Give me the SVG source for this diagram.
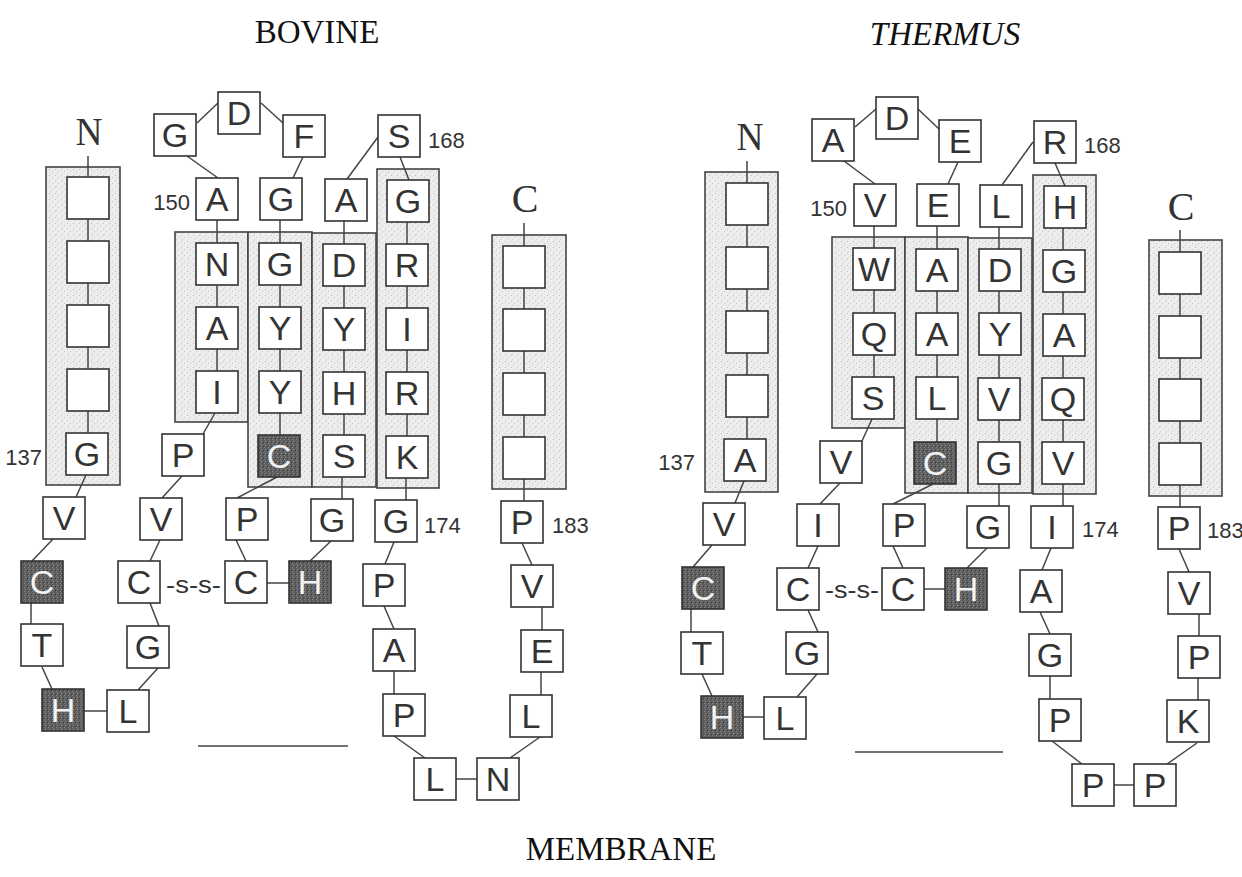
<svg xmlns="http://www.w3.org/2000/svg" width="1242" height="877" viewBox="0 0 1242 877">
<defs>
<pattern id="stip" width="6" height="6" patternUnits="userSpaceOnUse">
<rect width="6" height="6" fill="#ededed"/>
<rect x="1" y="1" width="1" height="1" fill="#bdbdbd"/>
<rect x="4" y="3" width="1" height="1" fill="#c4c4c4"/>
<rect x="2" y="5" width="1" height="1" fill="#d0d0d0"/>
</pattern>
<pattern id="dark" width="4" height="4" patternUnits="userSpaceOnUse">
<rect width="4" height="4" fill="#5e5e5e"/>
<rect x="1" y="1" width="1" height="1" fill="#939393"/>
<rect x="3" y="2" width="1" height="1" fill="#3c3c3c"/>
<rect x="0" y="3" width="1" height="1" fill="#848484"/>
</pattern>
</defs>
<style>
.sh{fill:url(#stip);stroke:#444;stroke-width:1.6}
.b{fill:#fff;stroke:#333;stroke-width:1.6}
.d{fill:url(#dark);stroke:#333;stroke-width:1.6}
.t{font-family:"Liberation Sans",Arial,sans-serif;font-size:34px;fill:#333;text-anchor:middle}
.tw{font-family:"Liberation Sans",Arial,sans-serif;font-size:34px;fill:#f2f2f2;text-anchor:middle}
.num{font-family:"Liberation Sans",Arial,sans-serif;font-size:22px;fill:#333}
.ss{font-family:"Liberation Sans",Arial,sans-serif;font-size:24px;fill:#333}
.lab{font-family:"Liberation Serif","Times New Roman",serif;font-size:40px;fill:#333;text-anchor:middle}
.title{font-family:"Liberation Serif","Times New Roman",serif;font-size:33px;fill:#111;text-anchor:middle}
.c{stroke:#444;stroke-width:1.5;fill:none}
</style>
<rect width="1242" height="877" fill="#fff"/>

<!-- titles -->
<text class="title" x="317" y="43">BOVINE</text>
<text class="title" x="945" y="45" font-style="italic">THERMUS</text>
<text class="title" x="621" y="860">MEMBRANE</text>

<!-- shaded helix regions -->
<g id="regions">
<rect class="sh" x="46" y="167" width="74" height="318"/>
<rect class="sh" x="175" y="232" width="73" height="190"/>
<rect class="sh" x="248" y="232" width="64" height="255"/>
<rect class="sh" x="312" y="233" width="64" height="254"/>
<rect class="sh" x="377" y="169" width="62" height="319"/>
<rect class="sh" x="492" y="235" width="74" height="254"/>
<rect class="sh" x="705" y="172" width="73" height="320"/>
<rect class="sh" x="832" y="237" width="73" height="191"/>
<rect class="sh" x="905" y="237" width="63" height="256"/>
<rect class="sh" x="968" y="238" width="64" height="255"/>
<rect class="sh" x="1033" y="175" width="63" height="319"/>
<rect class="sh" x="1149" y="240" width="73" height="256"/>
</g>

<!-- connectors -->
<g id="connectors" class="c">
<!-- bovine -->
<line x1="88" y1="156" x2="88" y2="433"/>
<line x1="86" y1="475" x2="76" y2="497"/>
<line x1="53" y1="539" x2="32" y2="561"/>
<line x1="31" y1="603" x2="31" y2="624"/>
<line x1="42" y1="667" x2="52" y2="689"/>
<line x1="83" y1="711" x2="107" y2="711"/>
<line x1="138" y1="690" x2="158" y2="668"/>
<line x1="159" y1="626" x2="150" y2="603"/>
<line x1="150" y1="561" x2="160" y2="540"/>
<line x1="162" y1="498" x2="182" y2="476"/>
<line x1="203" y1="434" x2="215" y2="413"/>
<line x1="217" y1="220" x2="217" y2="371"/>
<line x1="218" y1="178" x2="187" y2="156"/>
<line x1="197" y1="123" x2="218" y2="103"/>
<line x1="261" y1="103" x2="283" y2="123"/>
<line x1="303" y1="157" x2="293" y2="178"/>
<line x1="280" y1="220" x2="280" y2="435"/>
<line x1="277" y1="477" x2="237" y2="498"/>
<line x1="236" y1="540" x2="246" y2="561"/>
<line x1="267" y1="583" x2="289" y2="583"/>
<line x1="310" y1="561" x2="331" y2="541"/>
<line x1="344" y1="221" x2="344" y2="435"/>
<line x1="342" y1="477" x2="342" y2="499"/>
<line x1="347" y1="179" x2="378" y2="137"/>
<line x1="400" y1="157" x2="409" y2="180"/>
<line x1="407" y1="222" x2="407" y2="436"/>
<line x1="406" y1="478" x2="406" y2="500"/>
<line x1="394" y1="542" x2="385" y2="564"/>
<line x1="384" y1="606" x2="394" y2="629"/>
<line x1="394" y1="671" x2="394" y2="694"/>
<line x1="394" y1="736" x2="425" y2="758"/>
<line x1="456" y1="779" x2="477" y2="779"/>
<line x1="510" y1="758" x2="540" y2="737"/>
<line x1="541" y1="695" x2="541" y2="672"/>
<line x1="542" y1="630" x2="542" y2="607"/>
<line x1="532" y1="565" x2="522" y2="543"/>
<line x1="524" y1="223" x2="524" y2="501"/>
<line x1="198" y1="746" x2="348" y2="746"/>
<!-- thermus -->
<line x1="747" y1="161" x2="747" y2="439"/>
<line x1="744" y1="481" x2="735" y2="503"/>
<line x1="712" y1="545" x2="693" y2="567"/>
<line x1="691" y1="609" x2="691" y2="632"/>
<line x1="702" y1="674" x2="712" y2="696"/>
<line x1="743" y1="717" x2="764" y2="717"/>
<line x1="797" y1="697" x2="817" y2="674"/>
<line x1="818" y1="632" x2="808" y2="610"/>
<line x1="808" y1="568" x2="818" y2="546"/>
<line x1="820" y1="504" x2="840" y2="483"/>
<line x1="862" y1="441" x2="872" y2="419"/>
<line x1="874" y1="226" x2="874" y2="377"/>
<line x1="875" y1="184" x2="844" y2="161"/>
<line x1="855" y1="127" x2="876" y2="109"/>
<line x1="918" y1="109" x2="939" y2="129"/>
<line x1="958" y1="162" x2="948" y2="184"/>
<line x1="937" y1="226" x2="937" y2="442"/>
<line x1="933" y1="484" x2="893" y2="504"/>
<line x1="893" y1="546" x2="903" y2="568"/>
<line x1="923" y1="589" x2="945" y2="589"/>
<line x1="967" y1="568" x2="987" y2="548"/>
<line x1="999" y1="227" x2="999" y2="506"/>
<line x1="1002" y1="185" x2="1033" y2="142"/>
<line x1="1055" y1="163" x2="1065" y2="186"/>
<line x1="1063" y1="228" x2="1063" y2="506"/>
<line x1="1051" y1="548" x2="1042" y2="570"/>
<line x1="1040" y1="612" x2="1050" y2="634"/>
<line x1="1050" y1="676" x2="1050" y2="699"/>
<line x1="1052" y1="741" x2="1082" y2="764"/>
<line x1="1114" y1="785" x2="1134" y2="785"/>
<line x1="1167" y1="764" x2="1197" y2="743"/>
<line x1="1198" y1="700" x2="1198" y2="678"/>
<line x1="1199" y1="636" x2="1199" y2="614"/>
<line x1="1189" y1="572" x2="1179" y2="549"/>
<line x1="1180" y1="230" x2="1180" y2="507"/>
<line x1="855" y1="752" x2="1003" y2="752"/>
</g>

<!-- labels -->
<g id="labels">
<text class="lab" x="89" y="145" textLength="27" lengthAdjust="spacingAndGlyphs">N</text>
<text class="lab" x="525" y="212">C</text>
<text class="lab" x="750" y="150" textLength="27" lengthAdjust="spacingAndGlyphs">N</text>
<text class="lab" x="1181" y="220">C</text>
<text class="num" x="190" y="210" text-anchor="end">150</text>
<text class="num" x="428" y="148">168</text>
<text class="num" x="42" y="465" text-anchor="end">137</text>
<text class="num" x="424" y="533">174</text>
<text class="num" x="552" y="533">183</text>
<text class="num" x="847" y="216" text-anchor="end">150</text>
<text class="num" x="1084" y="153">168</text>
<text class="num" x="695" y="470" text-anchor="end">137</text>
<text class="num" x="1082" y="537">174</text>
<text class="num" x="1207" y="538" font-size="20">183</text>
<text class="ss" x="166" y="593" textLength="55" lengthAdjust="spacingAndGlyphs">-s-s-</text>
<text class="ss" x="825" y="598" textLength="54" lengthAdjust="spacingAndGlyphs">-s-s-</text>
</g>

<!-- BOVINE residues -->
<g id="b-n1"><rect class="b" x="67" y="177" width="42" height="42"/></g>
<g id="b-n2"><rect class="b" x="67" y="241" width="42" height="42"/></g>
<g id="b-n3"><rect class="b" x="67" y="305" width="42" height="42"/></g>
<g id="b-n4"><rect class="b" x="67" y="369" width="42" height="42"/></g>
<g id="b-g137"><rect class="b" x="66" y="433" width="42" height="42"/><text class="t" x="87" y="466">G</text></g>
<g id="b-v1"><rect class="b" x="43" y="497" width="42" height="42"/><text class="t" x="64" y="530">V</text></g>
<g id="b-c1"><rect class="d" x="21" y="561" width="42" height="42"/><text class="tw" x="42" y="594">C</text></g>
<g id="b-t"><rect class="b" x="21" y="624" width="42" height="42"/><text class="t" x="42" y="657">T</text></g>
<g id="b-h1"><rect class="d" x="42" y="689" width="42" height="42"/><text class="tw" x="63" y="722">H</text></g>
<g id="b-l1"><rect class="b" x="107" y="690" width="42" height="42"/><text class="t" x="128" y="723">L</text></g>
<g id="b-g2"><rect class="b" x="127" y="626" width="42" height="42"/><text class="t" x="148" y="659">G</text></g>
<g id="b-c2"><rect class="b" x="118" y="561" width="42" height="42"/><text class="t" x="139" y="594">C</text></g>
<g id="b-v2"><rect class="b" x="140" y="498" width="42" height="42"/><text class="t" x="161" y="531">V</text></g>
<g id="b-p1"><rect class="b" x="162" y="434" width="42" height="42"/><text class="t" x="183" y="467">P</text></g>
<g id="b-i1"><rect class="b" x="196" y="371" width="42" height="42"/><text class="t" x="217" y="404">I</text></g>
<g id="b-a2"><rect class="b" x="196" y="307" width="42" height="42"/><text class="t" x="217" y="340">A</text></g>
<g id="b-n5"><rect class="b" x="196" y="243" width="42" height="42"/><text class="t" x="217" y="276">N</text></g>
<g id="b-a150"><rect class="b" x="196" y="178" width="42" height="42"/><text class="t" x="217" y="211">A</text></g>
<g id="b-g3"><rect class="b" x="154" y="114" width="42" height="42"/><text class="t" x="175" y="147">G</text></g>
<g id="b-d1"><rect class="b" x="218" y="92" width="42" height="42"/><text class="t" x="239" y="125">D</text></g>
<g id="b-f"><rect class="b" x="283" y="115" width="42" height="42"/><text class="t" x="304" y="148">F</text></g>
<g id="b-g4"><rect class="b" x="260" y="178" width="42" height="42"/><text class="t" x="281" y="211">G</text></g>
<g id="b-g5"><rect class="b" x="259" y="243" width="42" height="42"/><text class="t" x="280" y="276">G</text></g>
<g id="b-y1"><rect class="b" x="259" y="307" width="42" height="42"/><text class="t" x="280" y="340">Y</text></g>
<g id="b-y2"><rect class="b" x="259" y="371" width="42" height="42"/><text class="t" x="280" y="404">Y</text></g>
<g id="b-c3"><rect class="d" x="258" y="435" width="42" height="42"/><text class="tw" x="279" y="468">C</text></g>
<g id="b-p2"><rect class="b" x="226" y="498" width="42" height="42"/><text class="t" x="247" y="531">P</text></g>
<g id="b-c4"><rect class="b" x="225" y="561" width="42" height="42"/><text class="t" x="246" y="594">C</text></g>
<g id="b-h2"><rect class="d" x="289" y="561" width="42" height="42"/><text class="tw" x="310" y="594">H</text></g>
<g id="b-g6"><rect class="b" x="311" y="499" width="42" height="42"/><text class="t" x="332" y="532">G</text></g>
<g id="b-s1"><rect class="b" x="323" y="435" width="42" height="42"/><text class="t" x="344" y="468">S</text></g>
<g id="b-h3"><rect class="b" x="323" y="372" width="42" height="42"/><text class="t" x="344" y="405">H</text></g>
<g id="b-y3"><rect class="b" x="323" y="308" width="42" height="42"/><text class="t" x="344" y="341">Y</text></g>
<g id="b-d2"><rect class="b" x="323" y="244" width="42" height="42"/><text class="t" x="344" y="277">D</text></g>
<g id="b-a3"><rect class="b" x="325" y="179" width="42" height="42"/><text class="t" x="346" y="212">A</text></g>
<g id="b-s168"><rect class="b" x="378" y="115" width="42" height="42"/><text class="t" x="399" y="148">S</text></g>
<g id="b-g7"><rect class="b" x="387" y="180" width="42" height="42"/><text class="t" x="408" y="213">G</text></g>
<g id="b-r1"><rect class="b" x="386" y="244" width="42" height="42"/><text class="t" x="407" y="277">R</text></g>
<g id="b-i2"><rect class="b" x="386" y="308" width="42" height="42"/><text class="t" x="407" y="341">I</text></g>
<g id="b-r2"><rect class="b" x="386" y="372" width="42" height="42"/><text class="t" x="407" y="405">R</text></g>
<g id="b-k"><rect class="b" x="386" y="436" width="42" height="42"/><text class="t" x="407" y="469">K</text></g>
<g id="b-g174"><rect class="b" x="375" y="500" width="42" height="42"/><text class="t" x="396" y="533">G</text></g>
<g id="b-p3"><rect class="b" x="363" y="564" width="42" height="42"/><text class="t" x="384" y="597">P</text></g>
<g id="b-a4"><rect class="b" x="373" y="629" width="42" height="42"/><text class="t" x="394" y="662">A</text></g>
<g id="b-p4"><rect class="b" x="383" y="694" width="42" height="42"/><text class="t" x="404" y="727">P</text></g>
<g id="b-l2"><rect class="b" x="414" y="758" width="42" height="42"/><text class="t" x="435" y="791">L</text></g>
<g id="b-n6"><rect class="b" x="477" y="758" width="42" height="42"/><text class="t" x="498" y="791">N</text></g>
<g id="b-l3"><rect class="b" x="510" y="695" width="42" height="42"/><text class="t" x="531" y="728">L</text></g>
<g id="b-e"><rect class="b" x="521" y="630" width="42" height="42"/><text class="t" x="542" y="663">E</text></g>
<g id="b-v3"><rect class="b" x="511" y="565" width="42" height="42"/><text class="t" x="532" y="598">V</text></g>
<g id="b-p183"><rect class="b" x="501" y="501" width="42" height="42"/><text class="t" x="522" y="534">P</text></g>
<g id="b-c5"><rect class="b" x="503" y="246" width="42" height="42"/></g>
<g id="b-c6"><rect class="b" x="503" y="309" width="42" height="42"/></g>
<g id="b-c7"><rect class="b" x="503" y="373" width="42" height="42"/></g>
<g id="b-c8"><rect class="b" x="503" y="437" width="42" height="42"/></g>

<!-- THERMUS residues -->
<g id="t-n1"><rect class="b" x="726" y="183" width="42" height="42"/></g>
<g id="t-n2"><rect class="b" x="726" y="247" width="42" height="42"/></g>
<g id="t-n3"><rect class="b" x="726" y="311" width="42" height="42"/></g>
<g id="t-n4"><rect class="b" x="726" y="375" width="42" height="42"/></g>
<g id="t-a137"><rect class="b" x="724" y="439" width="42" height="42"/><text class="t" x="745" y="472">A</text></g>
<g id="t-v1"><rect class="b" x="703" y="503" width="42" height="42"/><text class="t" x="724" y="536">V</text></g>
<g id="t-c1"><rect class="d" x="682" y="567" width="42" height="42"/><text class="tw" x="703" y="600">C</text></g>
<g id="t-t"><rect class="b" x="681" y="632" width="42" height="42"/><text class="t" x="702" y="665">T</text></g>
<g id="t-h1"><rect class="d" x="701" y="696" width="42" height="42"/><text class="tw" x="722" y="729">H</text></g>
<g id="t-l1"><rect class="b" x="764" y="697" width="42" height="42"/><text class="t" x="785" y="730">L</text></g>
<g id="t-g1"><rect class="b" x="786" y="632" width="42" height="42"/><text class="t" x="807" y="665">G</text></g>
<g id="t-c2"><rect class="b" x="777" y="568" width="42" height="42"/><text class="t" x="798" y="601">C</text></g>
<g id="t-i1"><rect class="b" x="797" y="504" width="42" height="42"/><text class="t" x="818" y="537">I</text></g>
<g id="t-v2"><rect class="b" x="820" y="441" width="42" height="42"/><text class="t" x="841" y="474">V</text></g>
<g id="t-s"><rect class="b" x="852" y="377" width="42" height="42"/><text class="t" x="873" y="410">S</text></g>
<g id="t-q1"><rect class="b" x="853" y="313" width="42" height="42"/><text class="t" x="874" y="346">Q</text></g>
<g id="t-w"><rect class="b" x="853" y="248" width="42" height="42"/><text class="t" x="874" y="281">W</text></g>
<g id="t-v150"><rect class="b" x="854" y="184" width="42" height="42"/><text class="t" x="875" y="217">V</text></g>
<g id="t-a1"><rect class="b" x="812" y="119" width="42" height="42"/><text class="t" x="833" y="152">A</text></g>
<g id="t-d1"><rect class="b" x="876" y="97" width="42" height="42"/><text class="t" x="897" y="130">D</text></g>
<g id="t-e1"><rect class="b" x="939" y="120" width="42" height="42"/><text class="t" x="960" y="153">E</text></g>
<g id="t-e2"><rect class="b" x="917" y="184" width="42" height="42"/><text class="t" x="938" y="217">E</text></g>
<g id="t-a2"><rect class="b" x="916" y="249" width="42" height="42"/><text class="t" x="937" y="282">A</text></g>
<g id="t-a3"><rect class="b" x="916" y="313" width="42" height="42"/><text class="t" x="937" y="346">A</text></g>
<g id="t-l2"><rect class="b" x="916" y="377" width="42" height="42"/><text class="t" x="937" y="410">L</text></g>
<g id="t-c3"><rect class="d" x="914" y="442" width="42" height="42"/><text class="tw" x="935" y="475">C</text></g>
<g id="t-p1"><rect class="b" x="883" y="504" width="42" height="42"/><text class="t" x="904" y="537">P</text></g>
<g id="t-c4"><rect class="b" x="882" y="568" width="42" height="42"/><text class="t" x="903" y="601">C</text></g>
<g id="t-h2"><rect class="d" x="945" y="568" width="42" height="42"/><text class="tw" x="966" y="601">H</text></g>
<g id="t-g2"><rect class="b" x="967" y="506" width="42" height="42"/><text class="t" x="988" y="539">G</text></g>
<g id="t-g3"><rect class="b" x="978" y="442" width="42" height="42"/><text class="t" x="999" y="475">G</text></g>
<g id="t-v3"><rect class="b" x="978" y="378" width="42" height="42"/><text class="t" x="999" y="411">V</text></g>
<g id="t-y"><rect class="b" x="979" y="313" width="42" height="42"/><text class="t" x="1000" y="346">Y</text></g>
<g id="t-d2"><rect class="b" x="979" y="249" width="42" height="42"/><text class="t" x="1000" y="282">D</text></g>
<g id="t-l3"><rect class="b" x="980" y="185" width="42" height="42"/><text class="t" x="1001" y="218">L</text></g>
<g id="t-r168"><rect class="b" x="1034" y="121" width="42" height="42"/><text class="t" x="1055" y="154">R</text></g>
<g id="t-h3"><rect class="b" x="1044" y="186" width="42" height="42"/><text class="t" x="1065" y="219">H</text></g>
<g id="t-g4"><rect class="b" x="1043" y="250" width="42" height="42"/><text class="t" x="1064" y="283">G</text></g>
<g id="t-a4"><rect class="b" x="1043" y="314" width="42" height="42"/><text class="t" x="1064" y="347">A</text></g>
<g id="t-q2"><rect class="b" x="1042" y="378" width="42" height="42"/><text class="t" x="1063" y="411">Q</text></g>
<g id="t-v4"><rect class="b" x="1042" y="442" width="42" height="42"/><text class="t" x="1063" y="475">V</text></g>
<g id="t-i174"><rect class="b" x="1031" y="506" width="42" height="42"/><text class="t" x="1052" y="539">I</text></g>
<g id="t-a5"><rect class="b" x="1020" y="570" width="42" height="42"/><text class="t" x="1041" y="603">A</text></g>
<g id="t-g5"><rect class="b" x="1029" y="634" width="42" height="42"/><text class="t" x="1050" y="667">G</text></g>
<g id="t-p2"><rect class="b" x="1039" y="699" width="42" height="42"/><text class="t" x="1060" y="732">P</text></g>
<g id="t-p3"><rect class="b" x="1072" y="764" width="42" height="42"/><text class="t" x="1093" y="797">P</text></g>
<g id="t-p4"><rect class="b" x="1134" y="764" width="42" height="42"/><text class="t" x="1155" y="797">P</text></g>
<g id="t-k"><rect class="b" x="1167" y="700" width="42" height="42"/><text class="t" x="1188" y="733">K</text></g>
<g id="t-p5"><rect class="b" x="1178" y="636" width="42" height="42"/><text class="t" x="1199" y="669">P</text></g>
<g id="t-v5"><rect class="b" x="1168" y="572" width="42" height="42"/><text class="t" x="1189" y="605">V</text></g>
<g id="t-p183"><rect class="b" x="1158" y="507" width="42" height="42"/><text class="t" x="1179" y="540">P</text></g>
<g id="t-c5"><rect class="b" x="1159" y="252" width="42" height="42"/></g>
<g id="t-c6"><rect class="b" x="1159" y="316" width="42" height="42"/></g>
<g id="t-c7"><rect class="b" x="1159" y="379" width="42" height="42"/></g>
<g id="t-c8"><rect class="b" x="1159" y="443" width="42" height="42"/></g>
</svg>
